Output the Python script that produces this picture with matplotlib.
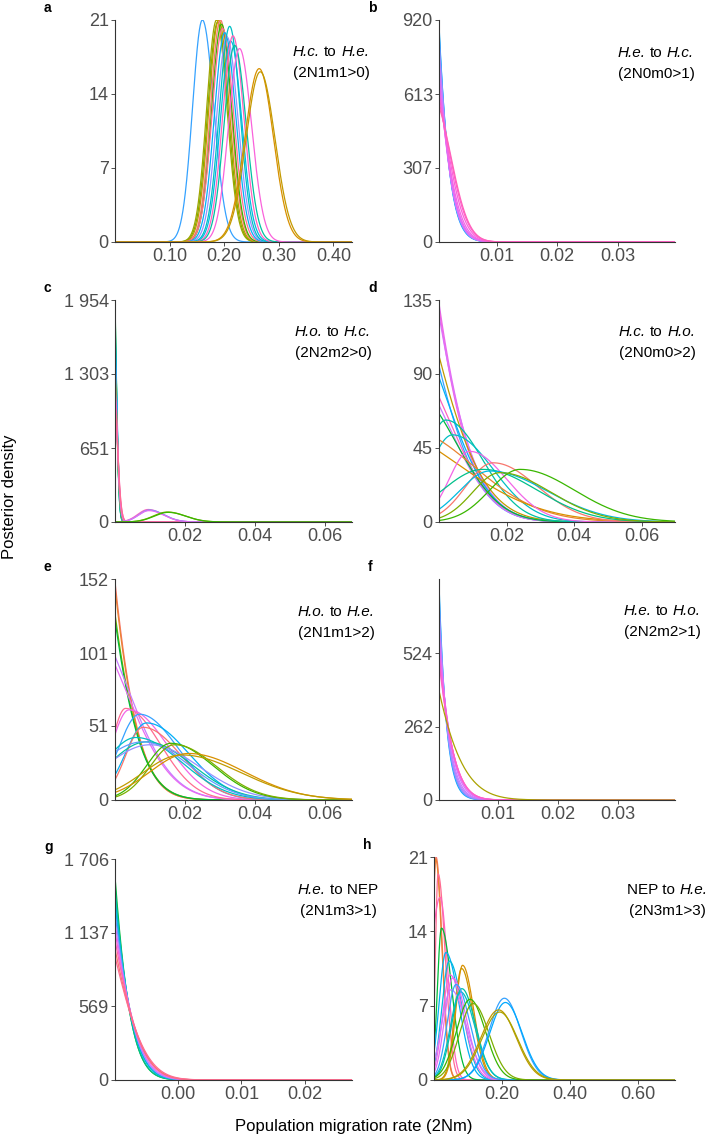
import numpy as np
import matplotlib.pyplot as plt

plt.rcParams['font.family'] = ['Liberation Sans', 'DejaVu Sans']

# each curve: mode, visible peak height, left spread, right spread, colour
# (a mode left of the axis start means the curve only decays in view)

# a  H.c. to H.e.
a_mode = [0.160, 0.186, 0.188, 0.190, 0.193, 0.195, 0.197, 0.201, 0.205, 0.210, 0.212, 0.216, 0.219, 0.228, 0.264, 0.266]
a_top = [21.0, 21.0, 20.8, 21.0, 21.0, 20.6, 20.2, 19.8, 19.4, 20.4, 19.0, 19.5, 18.6, 18.3, 16.4, 16.1]
a_sl = [0.018, 0.018, 0.018, 0.018, 0.018, 0.018, 0.019, 0.019, 0.019, 0.019, 0.019, 0.019, 0.019, 0.020, 0.026, 0.026]
a_sr = [0.021, 0.019, 0.019, 0.019, 0.019, 0.019, 0.020, 0.020, 0.020, 0.019, 0.020, 0.020, 0.021, 0.022, 0.026, 0.027]
a_col = ['#35A2FF', '#A3A500', '#7CAE00', '#C09B00', '#F8766D', '#39B600', '#FF6C91', '#00B0F6',
         '#9590FF', '#00BFC4', '#00BAE0', '#FF62BC', '#00C1A3', '#FA62DB', '#D89000', '#C49A00']

# b  H.e. to H.c.
b_mode = [-0.0100, -0.0095, -0.0090, -0.0080, -0.0070, -0.0060, -0.0050, -0.0040, -0.0030, -0.0020, -0.0012, -0.0007]
b_top = [900, 880, 860, 830, 800, 760, 720, 680, 640, 610, 580, 560]
b_sr = [0.0042, 0.0042, 0.0041, 0.0040, 0.0039, 0.0037, 0.0035, 0.0034, 0.0033, 0.0032, 0.0031, 0.0030]
b_sl = b_sr
b_col = ['#00A9FF', '#35A2FF', '#619CFF', '#8F91FF', '#B385FF', '#C77CFF',
         '#DB72FB', '#E76BF3', '#F265E7', '#FA62DB', '#FF61C9', '#FF62BC']

# c  H.o. to H.c.
c_mode = [-0.0005, -0.0005, -0.0005, -0.0005, -0.0005, -0.0005, -0.0005, -0.0005, -0.0005, -0.0005, -0.0005, -0.0005,
          0.0095, 0.0098, 0.0097, 0.0150, 0.0152]
c_top = [1950, 1900, 1800, 1700, 1600, 1500, 1400, 1300, 1250, 1200, 1150, 1100, 110, 105, 100, 88, 85]
c_sl = [0.0008, 0.0008, 0.0008, 0.0009, 0.0009, 0.0009, 0.0009, 0.0010, 0.0010, 0.0010, 0.0011, 0.0011,
        0.0030, 0.0030, 0.0030, 0.0040, 0.0040]
c_sr = [0.0008, 0.0008, 0.0008, 0.0009, 0.0009, 0.0009, 0.0009, 0.0010, 0.0010, 0.0010, 0.0011, 0.0011,
        0.0042, 0.0042, 0.0042, 0.0050, 0.0050]
c_col = ['#00BA38', '#00C08B', '#00BFC4', '#00B4F0', '#35A2FF', '#619CFF', '#7CAE00', '#A3A500',
         '#C77CFF', '#E76BF3', '#FF62BC', '#FF6C91', '#FF62BC', '#619CFF', '#E76BF3', '#7CAE00', '#39B600']

# d  H.c. to H.o.
d_mode = [-0.030, -0.030, -0.025, -0.020, -0.020, -0.012, -0.010, -0.010, -0.008, 0.002, 0.004,
          -0.010, -0.020, 0.009, 0.016, 0.013, 0.015, 0.024, 0.018]
d_top = [133, 130, 126, 101, 95, 88, 76, 71, 66, 62, 53, 50, 43, 43, 36, 32, 31, 32, 30]
d_sl = [0.0168, 0.0165, 0.016, 0.016, 0.015, 0.0135, 0.013, 0.013, 0.013, 0.006, 0.007,
        0.020, 0.025, 0.006, 0.008, 0.012, 0.009, 0.009, 0.008]
d_sr = [0.0168, 0.0165, 0.016, 0.016, 0.015, 0.0135, 0.013, 0.013, 0.013, 0.011, 0.012,
        0.020, 0.025, 0.011, 0.013, 0.016, 0.017, 0.016, 0.015]
d_col = ['#E76BF3', '#FA62DB', '#DB72FB', '#C09B00', '#35A2FF', '#00B0F6', '#FF62BC', '#C77CFF',
         '#00BA38', '#00C1A3', '#00BFC4', '#EA8331', '#D89000', '#F265E7', '#F8766D', '#00C08B',
         '#00BAE0', '#39B600', '#7CAE00']

# e  H.o. to H.e.
e_mode = [-0.020, -0.020, -0.020, -0.020, -0.010, -0.010, 0.003, 0.004, 0.007, 0.009, 0.008, 0.006,
          0.009, 0.008, 0.010, 0.016, 0.017, 0.021, 0.019]
e_top = [150, 146, 128, 124, 99, 93, 63, 62, 59, 53, 50, 43, 40, 40, 38, 39, 38, 32, 31]
e_sl = [0.0115, 0.0115, 0.012, 0.012, 0.013, 0.013, 0.004, 0.005, 0.006, 0.006, 0.005, 0.009,
        0.011, 0.013, 0.013, 0.007, 0.007, 0.011, 0.011]
e_sr = [0.0115, 0.0115, 0.012, 0.012, 0.013, 0.013, 0.010, 0.011, 0.011, 0.012, 0.011, 0.013,
        0.013, 0.013, 0.014, 0.012, 0.012, 0.016, 0.017]
e_col = ['#F8766D', '#EA8331', '#7CAE00', '#00BA38', '#C77CFF', '#E76BF3', '#FF6C91', '#F265E7',
         '#35A2FF', '#00B0F6', '#F8766D', '#00BFC4', '#00C1A3', '#619CFF', '#9590FF', '#39B600',
         '#7CAE00', '#D89000', '#C09B00']

# f  H.e. to H.o.
f_mode = [-0.020, -0.018, -0.016, -0.014, -0.012, -0.010, -0.0085, -0.0075, -0.0068, -0.0066, -0.014]
f_top = [770, 740, 700, 660, 620, 590, 560, 530, 510, 495, 390]
f_sr = [0.0050, 0.0049, 0.0048, 0.0047, 0.0046, 0.0045, 0.0044, 0.0043, 0.0042, 0.0042, 0.0075]
f_sl = f_sr
f_col = ['#00A9FF', '#619CFF', '#8F91FF', '#B385FF', '#C77CFF', '#DB72FB',
         '#E76BF3', '#F265E7', '#FA62DB', '#FF61C9', '#ABA300']

# g  H.e. to NEP
g_mode = [-0.0179, -0.0176, -0.0172, -0.0168, -0.0165, -0.0162, -0.0158, -0.0155, -0.0152, -0.0149]
g_top = [1570, 1500, 1430, 1360, 1290, 1220, 1150, 1080, 1010, 950]
g_sr = [0.0044, 0.0044, 0.0045, 0.0045, 0.0046, 0.0046, 0.0047, 0.0048, 0.0048, 0.0049]
g_sl = g_sr
g_col = ['#00BA38', '#00C08B', '#00BFC4', '#00B4F0', '#619CFF', '#C77CFF',
         '#F564E3', '#FF64B0', '#F8766D', '#FF6C91']

# h  NEP to H.e.
h_mode = [0.006, 0.005, 0.012, 0.018, 0.022, 0.035, 0.045, 0.084, 0.081, 0.047, 0.055, 0.050, 0.082,
          0.078, 0.065, 0.106, 0.115, 0.207, 0.210, 0.190, 0.193]
h_top = [21.0, 20.8, 19.4, 17.2, 14.3, 12.0, 11.2, 10.8, 10.5, 9.9, 9.6, 8.5, 8.6, 8.3, 9.0,
         7.6, 7.2, 7.7, 7.3, 6.6, 6.4]
h_sl = [0.010, 0.010, 0.008, 0.030, 0.012, 0.020, 0.022, 0.020, 0.020, 0.022, 0.024, 0.028, 0.030,
        0.030, 0.026, 0.040, 0.040, 0.045, 0.046, 0.052, 0.052]
h_sr = [0.018, 0.018, 0.021, 0.022, 0.030, 0.038, 0.038, 0.033, 0.033, 0.040, 0.040, 0.045, 0.040,
        0.042, 0.040, 0.045, 0.047, 0.048, 0.049, 0.052, 0.053]
h_col = ['#F8766D', '#EA8331', '#FF6C91', '#FF62BC', '#00BA38', '#00B0F6', '#00BAE0', '#D89000',
         '#CD9600', '#F265E7', '#E76BF3', '#C77CFF', '#00C1A3', '#00BFC4', '#35A2FF', '#39B600',
         '#7CAE00', '#35A2FF', '#00A9FF', '#C09B00', '#ABA300']

W, H = 709, 1137
fig = plt.figure(figsize=(W / 100, H / 100), dpi=100)
renderer = fig.canvas.get_renderer()


def density(x, m, top, sl, sr, xlo):
    if m <= xlo:
        return top * np.exp(-((x - m) ** 2 - (xlo - m) ** 2) / (2 * sr ** 2))
    s = np.where(x < m, sl, sr)
    return top * np.exp(-(x - m) ** 2 / (2 * s ** 2))


def text_w(s, style):
    t = fig.text(0, 0, s, fontsize=11, style=style)
    w = t.get_window_extent(renderer).width
    t.remove()
    return w


SPACE = text_w('x x', 'normal') - text_w('xx', 'normal')


def mixed_line(cx, cy, pieces):
    # pieces: (string, style); a space goes between consecutive pieces
    widths = [text_w(s, st) for s, st in pieces]
    total = sum(widths) + SPACE * (len(pieces) - 1)
    x = cx - total / 2
    for (s, st), w in zip(pieces, widths):
        fig.text(x / W, 1 - cy / H, s, fontsize=11, style=st, ha='left', va='center')
        x += w + SPACE


panels = [
    # letter, box (l, t, r, b) px, xlim, ymax, xticks, xlabels, yticks, ylabels, title pieces, code, text centre
    ('a', (115, 20, 352, 242), (0.0, 0.434), 21, [0.1, 0.2, 0.3, 0.4], ['0.10', '0.20', '0.30', '0.40'],
     [0, 7, 14, 21], ['0', '7', '14', '21'],
     [('H.c.', 'italic'), ('to', 'normal'), ('H.e.', 'italic')], '(2N1m1>0)', (331, 52),
     (a_mode, a_top, a_sl, a_sr, a_col)),
    ('b', (439, 20, 675, 242), (0.0004, 0.0395), 920, [0.01, 0.02, 0.03], ['0.01', '0.02', '0.03'],
     [0, 307, 613, 920], ['0', '307', '613', '920'],
     [('H.e.', 'italic'), ('to', 'normal'), ('H.c.', 'italic')], '(2N0m0>1)', (656, 53),
     (b_mode, b_top, b_sl, b_sr, b_col)),
    ('c', (115, 300, 352, 522), (0.0, 0.0677), 1954, [0.02, 0.04, 0.06], ['0.02', '0.04', '0.06'],
     [0, 651, 1303, 1954], ['0', '651', '1 303', '1 954'],
     [('H.o.', 'italic'), ('to', 'normal'), ('H.c.', 'italic')], '(2N2m2>0)', (333, 332),
     (c_mode, c_top, c_sl, c_sr, c_col)),
    ('d', (439, 300, 675, 522), (0.0, 0.0698), 135, [0.02, 0.04, 0.06], ['0.02', '0.04', '0.06'],
     [0, 45, 90, 135], ['0', '45', '90', '135'],
     [('H.c.', 'italic'), ('to', 'normal'), ('H.o.', 'italic')], '(2N0m0>2)', (657, 332),
     (d_mode, d_top, d_sl, d_sr, d_col)),
    ('e', (115, 579, 352, 800), (0.0, 0.0677), 152, [0.02, 0.04, 0.06], ['0.02', '0.04', '0.06'],
     [0, 51, 101, 152], ['0', '51', '101', '152'],
     [('H.o.', 'italic'), ('to', 'normal'), ('H.e.', 'italic')], '(2N1m1>2)', (336, 612),
     (e_mode, e_top, e_sl, e_sr, e_col)),
    ('f', (439, 579, 675, 800), (0.0002, 0.0395), 788, [0.01, 0.02, 0.03], ['0.01', '0.02', '0.03'],
     [0, 262, 524], ['0', '262', '524'],
     [('H.e.', 'italic'), ('to', 'normal'), ('H.o.', 'italic')], '(2N2m2>1)', (662, 611),
     (f_mode, f_top, f_sl, f_sr, f_col)),
    ('g', (115, 859, 352, 1080), (-0.0099, 0.0274), 1706, [0.0, 0.01, 0.02], ['0.00', '0.01', '0.02'],
     [0, 569, 1137, 1706], ['0', '569', '1 137', '1 706'],
     [('H.e.', 'italic'), ('to NEP', 'normal')], '(2N1m3>1)', (338, 890),
     (g_mode, g_top, g_sl, g_sr, g_col)),
    ('h', (434, 857, 675, 1080), (0.0, 0.709), 21, [0.2, 0.4, 0.6], ['0.20', '0.40', '0.60'],
     [0, 7, 14, 21], ['0', '7', '14', '21'],
     [('NEP to', 'normal'), ('H.e.', 'italic')], '(2N3m1>3)', (667, 890),
     (h_mode, h_top, h_sl, h_sr, h_col)),
]

for (letter, box, xlim, ymax, xt, xtl, yt, ytl, title, code, tpos, data) in panels:
    l, t, r, b = box
    ax = fig.add_axes([l / W, 1 - b / H, (r - l) / W, (b - t) / H])
    x = np.linspace(xlim[0], xlim[1], 2000)
    for m, top, sl, sr, col in zip(*data):
        ax.plot(x, density(x, m, top, sl, sr, xlim[0]), color=col, lw=0.9)
    ax.set_xlim(*xlim)
    ax.set_ylim(0, ymax)
    ax.set_xticks(xt)
    ax.set_xticklabels(xtl)
    ax.set_yticks(yt)
    ax.set_yticklabels(ytl)
    for s in ['top', 'right']:
        ax.spines[s].set_visible(False)
    for s in ['left', 'bottom']:
        ax.spines[s].set_color('#333333')
        ax.spines[s].set_linewidth(0.8)
    ax.tick_params(length=3, width=0.6, color='#333333', labelcolor='#4D4D4D', labelsize=13, pad=1.5)
    fig.text((l - 71) / W, 1 - (t - 12) / H, letter, fontsize=10, fontweight='bold', ha='left', va='center')
    mixed_line(tpos[0], tpos[1], title)
    fig.text(tpos[0] / W, 1 - (tpos[1] + 21) / H, code, fontsize=11, ha='center', va='center')

fig.text(10 / W, 1 - 497 / H, 'Posterior density', rotation=90, fontsize=12, ha='center', va='center')
fig.text(354 / W, 1 - 1127 / H, 'Population migration rate (2Nm)', fontsize=12, ha='center', va='center')

fig.savefig('out.png', dpi=100)
